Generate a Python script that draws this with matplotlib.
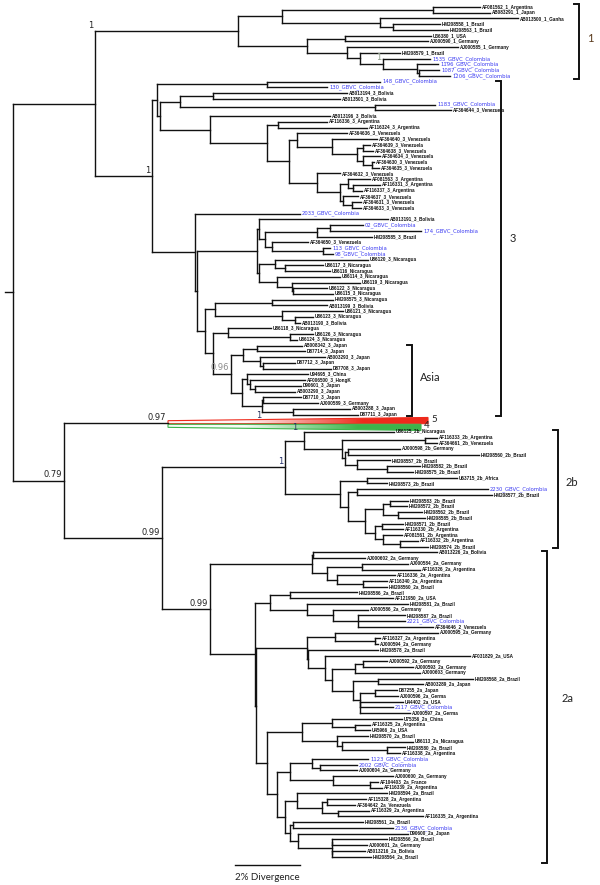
import matplotlib
matplotlib.use("Agg")
import matplotlib.pyplot as plt
from matplotlib.collections import LineCollection
from matplotlib.patches import Polygon
import numpy as np
from matplotlib.colors import to_rgb

# branch lengths in scale units (65 units = the 2% divergence bar)
CLADE_1 = """(((AF081562_1_Argentina:47,AB083291_1_Japan:57):151,
 (AB013500_1_Ganha:138,(HM208558_1_Brazil:47,HM208563_1_Brazil:55):13):98):44,
 ((U36380_1_USA:86,AJ000590_1_Germany:83):38,
 (AJ000585_1_Germany:111,(HM208579_1_Brazil:40,(1535_GBVC_Colombia:47,
 (1196_GBVC_Colombia:21,(1087_GBVC_Colombia:20,1206_GBVC_Colombia:31):2):34)1:23):13):40):69)1"""

ASIA = """(((AB008342_3_Japan:45,D87714_3_Japan:48):14,
 (AB003293_3_Japan:65,(D87712_3_Japan:32,D87708_3_Japan:68):3):17):12,
 ((U94695_3_China:61,(AF006500_3_HongK:55,(D90601_3_Japan:46,AB003290_3_Japan:40):5):3):5,
 ((D87710_3_Japan:38,AJ000589_3_Germany:55):1,(AB003288_3_Japan:57,D87711_3_Japan:65):31):20):11)0.96"""

CLADE_3 = """(((148_GBVC_Colombia:113,130_GBVC_Colombia:60):110,
 (((AB013194_3_Bolivia:134,AB013501_3_Bolivia:127):33,
 (1183_GBVC_Colombia:60,AF364644_3_Venezuela:76):195):20,
 (AB013196_3_Bolivia:120,((AF116336_3_Argentina:49,AF116324_3_Argentina:89):11,
 ((AF364636_3_Venezuela:50,(AF364640_3_Venezuela:45,((AF364639_3_Venezuela:7,AF364638_3_Venezuela:10):6,
 (AF364634_3_Venezuela:17,(AF364630_3_Venezuela:2,AF364635_3_Venezuela:7):9):6):25):35):8,
 (AF364632_3_Venezuela:23,((AF081563_3_Argentina:22,(AF116331_3_Argentina:27,AF116337_3_Argentina:9):5):8,
 (AF364637_3_Venezuela:15,(AF364631_3_Venezuela:9,AF364633_3_Venezuela:9):9):3):23):28):22):57):50):3):5,
 (2033_GBVC_Colombia:105,
 (((AB013191_3_Bolivia:129,(((02_GBVC_Colombia:33,174_GBVC_Colombia:91):13,HM208585_3_Brazil:55):52,
 (AF364650_3_Venezuela:36,(113_GBVC_Colombia:7,98_GBVC_Colombia:10):51):7):6):2,
 ((U86120_3_Nicaragua:93,(U86117_3_Nicaragua:38,U86116_Nicaragua:45):10):16,
 (U86114_3_Nicaragua:63,(U86119_3_Nicaragua:68,(U86122_3_Nicaragua:34,U86115_3_Nicaragua:40):1):15):18):2):60,
 (((HM208575_3_Nicaragua:61,AB013199_3_Bolivia:55):57,
 (U86121_3_Nicaragua:61,(U86123_3_Nicaragua:18,AB013190_3_Bolivia:5):13):67):10,
 ((U86118_3_Nicaragua:43,(U86126_3_Nicaragua:23,U86124_3_Nicaragua:7):62):15,{asia}:18):8):8):2):43)1"""

CLADE_2B = """((U86125_2b_Nicaragua:90,((AF116333_2b_Argentina:12,AF364661_2b_Venezuela:12):83,
 ((AJ000598_2b_Germany:52,HM208560_2b_Brazil:131):3,
 (HM208557_2b_Brazil:33,(HM208582_2b_Brazil:33,HM208575_2b_Brazil:26):30):12):3):38):19,
 ((U63715_2b_Africa:90,HM208573_2b_Brazil:20):27,
 ((2230_GBVC_Colombia:131,HM208577_2b_Brazil:135):9,
 (((HM208583_2b_Brazil:18,HM208572_2b_Brazil:17):7,(HM208562_2b_Brazil:24,HM208585_2b_Brazil:27):15):18,
 ((HM208571_2b_Brazil:21,AF116330_2b_Argentina:21):7,
 (AF081561_2b_Argentina:19,(AF116332_2b_Argentina:18,HM208574_2b_Brazil:28):17):8):10):17):8):55)1"""

BOTTOM_2A = """(((U75356_2a_China:70,(AF116325_2a_Argentina:15,U45966_2a_USA:15):23):30,
 (HM208570_2a_Brazil:31,(U86113_2a_Nicaragua:71,(HM208580_2a_Brazil:18,AF116338_2a_Argentina:13):45):5):35):35,
 (((1123_GBVC_Colombia:56,(2002_GBVC_Colombia:37,AJ000604_2a_Germany:37):8):22,
 (AJ000600_2a_Germany:60,(AF104403_2a_France:8,AF116339_2a_Argentina:12):37):43):13,
 ((HM208594_2a_Brazil:90,((AF115328_2a_Argentina:39,AF364642_2a_Venezuela:28):5,
 (AF116329_2a_Argentina:31,AF116335_2a_Argentina:85):16):25):12,
 ((HM208561_2a_Brazil:70,2136_GBVC_Colombia:100):3,
 (D90600_2a_Japan:110,((HM208566_2a_Brazil:55,AJ000601_2a_Germany:35):0,
 (AB013216_2a_Bolivia:33,HM208564_2a_Brazil:39):0):34):8):5):8):10)"""

CLADE_2A = """(((AB013226_2a_Bolivia:124,AJ000602_2a_Germany:52):1,
 ((AJ000584_2a_Germany:46,AF116326_2a_Argentina:58):35,
 (AF116336_2a_Argentina:58,(AF116340_2a_Argentina:24,HM208560_2a_Brazil:24):26):10):15):102,
 (((HM208586_2a_Brazil:67,AF121950_2a_USA:103):20,
 (HM208581_2a_Brazil:101,(AJ000586_2a_Germany:35,
 (HM208587_2a_Brazil:47,2221_GBVC_Colombia:47,AF364646_2_Venezuela:75):25):26):37):15,
 (((AJ000595_2a_Germany:103,(AF116327_2a_Argentina:5,AJ000594_2a_Germany:3):40):28,
 (HM208578_2a_Brazil:70,(AF031829_2a_USA:145,(((AJ000592_2a_Germany:24,AJ000593_2a_Germany:50):8,
 AJ000603_Germany:65):23,((HM208568_2a_Brazil:95,AB003289_2a_Japan:45):25,
 ((D87255_2a_Japan:22,AJ000596_2a_Germa:23):15,
 (U44402_2a_USA:43,2117_GBVC_Colombia:33,AJ000597_2a_Germa:50):0):7):21):7):17):1):51,
 {bottom}:11):1):45)0.99"""

BACKBONE = "(({c1}:143,{c3}:57):82,(([5]:260,[4]:253)0.97:104,({c2b}:123,{c2a}:48)0.99:98)0.79:51)"

COLLAPSED_SIZE = {"[5]": "5", "[4]": "4"}
COLLAPSED_SUPPORT = {"[5]": "1", "[4]": "1"}

# genotype brackets: label, first leaf, last leaf
BRACKETS = [("1", "AF081562_1_Argentina", "1206_GBVC_Colombia"),
            ("3", "148_GBVC_Colombia", "D87711_3_Japan"),
            ("Asia", "AB008342_3_Japan", "D87711_3_Japan"),
            ("2b", "U86125_2b_Nicaragua", "HM208574_2b_Brazil"),
            ("2a", "AB013226_2a_Bolivia", "HM208564_2a_Brazil")]

# ---------------------------------------------------------------
UNITS_PER_PCT = 32.5
STEP = 5.74
TOP = 7.0
ROOT_PX = 13.0


def ux(px):
    return (px - ROOT_PX) / UNITS_PER_PCT


def iy(py):
    return (py - TOP) / STEP


def parse(s):
    s = "".join(s.split())
    pos = 0

    def read():
        nonlocal pos
        kids = []
        if s[pos] == "(":
            pos += 1
            while True:
                kids.append(read())
                c = s[pos]
                pos += 1
                if c == ")":
                    break
        start = pos
        while pos < len(s) and s[pos] not in ",()":
            pos += 1
        tok = s[start:pos]
        if ":" in tok:
            name, ln = tok.rsplit(":", 1)
        else:
            name, ln = tok, "0"
        return {"name": name, "len": float(ln), "kids": kids}

    return read()


newick = BACKBONE.format(c1=CLADE_1, c3=CLADE_3.format(asia=ASIA),
                         c2b=CLADE_2B, c2a=CLADE_2A.format(bottom=BOTTOM_2A))
tree = parse(newick)

leaves = []


def layout(n, x0):
    n["x"] = x0 + n["len"] / UNITS_PER_PCT
    n["px"] = x0
    if not n["kids"]:
        n["y"] = len(leaves)
        leaves.append(n)
    else:
        for k in n["kids"]:
            layout(k, n["x"])
        n["y"] = (n["kids"][0]["y"] + n["kids"][-1]["y"]) / 2


layout(tree, 0.0)
leaf_y = {l["name"]: l["y"] for l in leaves}


def span(n):
    a = b = n
    while a["kids"]:
        a = a["kids"][0]
    while b["kids"]:
        b = b["kids"][-1]
    return a["name"], b["name"]


# support label colours keyed by the (first, last) leaf of the node
SUPPORT_COLOR = {("1535_GBVC_Colombia", "1206_GBVC_Colombia"): "#8a9a86",
                 ("AB008342_3_Japan", "D87711_3_Japan"): "#8c8c8c",
                 ("U86125_2b_Nicaragua", "HM208574_2b_Brazil"): "#23306a"}
SUPPORT_AT_START = {("AF081562_1_Argentina", "1206_GBVC_Colombia")}

fig = plt.figure(figsize=(6, 8.85), dpi=100)
ax = fig.add_axes([0, 0, 1, 1])
ax.axis("off")

segs = []
internal = []


def collect(n):
    if n["kids"]:
        internal.append(n)
        if not all(k["name"] in COLLAPSED_SIZE for k in n["kids"]):
            segs.append([(n["x"], n["kids"][0]["y"]), (n["x"], n["kids"][-1]["y"])])
        for k in n["kids"]:
            if k["name"] not in COLLAPSED_SIZE:
                segs.append([(n["x"], k["y"]), (k["x"], k["y"])])
            collect(k)


collect(tree)
segs.append([(ux(5), tree["y"]), (0, tree["y"])])
ax.add_collection(LineCollection(segs, colors="#111111", linewidths=1.0, capstyle="projecting"))

dx = 2 / UNITS_PER_PCT
for l in leaves:
    if l["name"] in COLLAPSED_SIZE:
        continue
    if "GBVC" in l["name"]:
        ax.text(l["x"] + dx, l["y"], l["name"], fontsize=3.8,
                family=["DejaVu Sans"], color="#3c3cf2", va="center", ha="left")
    else:
        ax.text(l["x"] + dx, l["y"], l["name"], fontsize=3.3, fontweight="bold",
                family=["Liberation Sans", "DejaVu Sans"], color="#111111",
                va="center", ha="left")

# support values
for n in internal:
    if n is tree or not n["name"]:
        continue
    key = span(n)
    col = SUPPORT_COLOR.get(key, "#222222")
    xr = (n["px"] if key in SUPPORT_AT_START else n["x"]) - dx
    ax.text(xr, n["y"] - 0.25, n["name"], fontsize=6, color=col, ha="right",
            va="bottom", family=["DejaVu Sans"])

# collapsed clades (wedges)
COLORS = {"[5]": "#ee2a1c", "[4]": "#3cb44b"}
for l in leaves:
    if l["name"] not in COLLAPSED_SIZE:
        continue
    x0, x1, y = l["px"], l["x"], l["y"]
    if l["name"] == "[5]":
        pts = [(x0, y + 0.07), (x1, y - 0.49), (x1, y + 0.59), (x0, y + 0.59)]
        ylo, yhi = y - 0.49, y + 0.59
        frac, ys, sy = 0.35, y - 0.75, y - 0.2
    else:
        pts = [(x0, y - 0.3), (x1, y - 0.3), (x1, y + 0.78), (x0, y + 0.23)]
        ylo, yhi = y - 0.3, y + 0.78
        frac, ys, sy = 0.5, y + 0.25, y - 0.15
    c = COLORS[l["name"]]
    poly = Polygon(pts, closed=True, facecolor="none", edgecolor=c, lw=0.8)
    ax.add_patch(poly)
    t = np.linspace(0, 1, 256)
    alpha = np.clip((t - 0.3) / 0.45, 0, 1) * 0.95 + 0.05
    img = np.zeros((1, 256, 4))
    img[..., :3] = to_rgb(c)
    img[0, :, 3] = alpha
    im = ax.imshow(img, extent=(x0, x1, yhi, ylo), aspect="auto", interpolation="bilinear")
    im.set_clip_path(poly)
    ax.text(x0 + frac * (x1 - x0), ys, COLLAPSED_SUPPORT[l["name"]], fontsize=6,
            color="#2b3560", ha="center", va="center")
    ax.text(x1 + 3 / UNITS_PER_PCT, sy, COLLAPSED_SIZE[l["name"]], fontsize=7,
            family=["Lato", "DejaVu Sans"], color="#222222", ha="left", va="center")

# genotype brackets (x of bracket, text x, text y in figure pixels)
BR_X = {"1": 579, "3": 501, "Asia": 412, "2b": 558, "2a": 547}
BR_PAD = {"1": (0.6, 0.6), "3": (0.1, 0.2), "Asia": (0.2, 0.3), "2b": (0.3, 0.3),
          "2a": (0.2, 1.2)}
BR_TEXT = {"1": (587, 38), "3": (510, 238), "Asia": (420, 378), "2b": (566, 483),
           "2a": (562, 699)}
BR_TEXT_COL = {"1": "#5a3a1c"}
for name, a, b in BRACKETS:
    x = ux(BR_X[name])
    y0 = leaf_y[a] - BR_PAD[name][0]
    y1 = leaf_y[b] + BR_PAD[name][1]
    h = 5 / UNITS_PER_PCT
    ax.plot([x - h, x, x, x - h], [y0, y0, y1, y1], color="#111111", lw=1.4,
            solid_joinstyle="miter")
    tx, ty = BR_TEXT[name]
    ax.text(ux(tx), iy(ty), name, fontsize=8, family=["Lato", "DejaVu Sans"],
            color=BR_TEXT_COL.get(name, "#222222"), ha="left", va="center")

# scale bar
xb = ux(235)
ax.plot([xb, xb + 2.0], [iy(865)] * 2, color="#111111", lw=1.0)
ax.text(xb + 1.0, iy(877), "2% Divergence", fontsize=7, ha="center", va="center",
        family=["Lato", "DejaVu Sans"], color="#222222")

ax.set_xlim(ux(0), ux(600))
ax.set_ylim(iy(885), iy(0))
fig.savefig("out.png", dpi=100, facecolor="white")
